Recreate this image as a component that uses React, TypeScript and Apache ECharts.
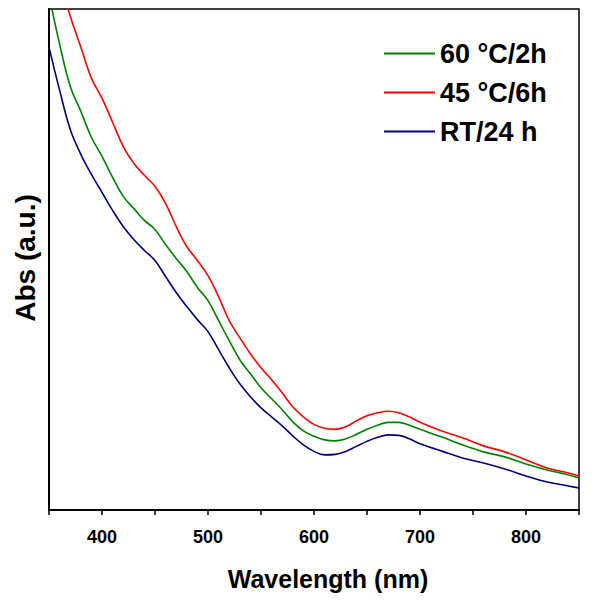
import React, { useEffect, useRef } from "react";
import * as echarts from "echarts";

const wavelengths = [
  350, 360, 370, 380, 390, 400, 410, 420, 430, 440, 450, 460, 470, 480, 490,
  500, 510, 520, 530, 540, 550, 560, 570, 580, 590, 600, 610, 620, 630, 640,
  650, 660, 670, 680, 690, 700, 720, 740, 760, 780, 800, 820, 840, 850,
];

const abs60C2h = [
  1.028, 0.93, 0.846, 0.796, 0.744, 0.706, 0.664, 0.626, 0.602, 0.578, 0.56,
  0.53, 0.502, 0.476, 0.444, 0.418, 0.378, 0.338, 0.3, 0.272, 0.244, 0.222,
  0.2, 0.176, 0.158, 0.147, 0.14, 0.138, 0.142, 0.151, 0.161, 0.169, 0.175,
  0.175, 0.169, 0.161, 0.146, 0.13, 0.116, 0.106, 0.092, 0.08, 0.07, 0.064,
];

const abs45C6h = [
  1.12, 1.056, 0.986, 0.924, 0.862, 0.822, 0.774, 0.726, 0.692, 0.668, 0.646,
  0.612, 0.566, 0.526, 0.498, 0.468, 0.426, 0.378, 0.344, 0.312, 0.284, 0.26,
  0.234, 0.206, 0.186, 0.171, 0.163, 0.161, 0.166, 0.178, 0.188, 0.194, 0.197,
  0.194, 0.186, 0.175, 0.158, 0.144, 0.128, 0.116, 0.1, 0.084, 0.074, 0.068,
];

const absRT24h = [
  0.924, 0.838, 0.76, 0.71, 0.67, 0.634, 0.598, 0.566, 0.54, 0.518, 0.498,
  0.466, 0.434, 0.406, 0.38, 0.356, 0.32, 0.284, 0.252, 0.226, 0.204, 0.186,
  0.168, 0.148, 0.13, 0.117, 0.11, 0.111, 0.117, 0.127, 0.137, 0.145, 0.15,
  0.149, 0.142, 0.132, 0.118, 0.104, 0.094, 0.082, 0.068, 0.056, 0.048, 0.044,
];

const seriesNames = ["60 °C/2h", "45 °C/6h", "RT/24 h"];
const seriesColors = ["#008000", "#ff0000", "#00007f"];

const FONT = "Liberation Sans, Arial, sans-serif";

export default function App() {
  const ref = useRef<HTMLDivElement>(null);

  useEffect(() => {
    if (!ref.current) return;
    document.body.style.margin = "0";
    const chart = echarts.init(ref.current, null, { renderer: "svg" });
    const seriesData = [abs60C2h, abs45C6h, absRT24h];
    chart.setOption({
      animation: false,
      backgroundColor: "#ffffff",
      grid: {
        left: 49,
        right: 21,
        top: 9,
        bottom: 90,
        show: true,
        borderColor: "#000",
        borderWidth: 1.5,
      },
      legend: {
        orient: "vertical",
        left: 379,
        top: 35,
        itemWidth: 51,
        itemHeight: 2,
        itemGap: 12,
        icon: "rect",
        data: seriesNames,
        textStyle: {
          fontFamily: FONT,
          fontWeight: "bold",
          fontSize: 27,
          color: "#000",
        },
      },
      xAxis: {
        type: "value",
        min: 350,
        max: 850,
        interval: 50,
        axisLine: { show: true, lineStyle: { color: "#000", width: 2 } },
        axisTick: {
          show: true,
          inside: false,
          length: 5,
          lineStyle: { color: "#000", width: 1.5 },
        },
        axisLabel: {
          margin: 18,
          fontFamily: FONT,
          fontWeight: "bold",
          fontSize: 18,
          color: "#000",
          formatter: (v: number) => (v % 100 === 0 ? String(v) : ""),
        },
        splitLine: { show: false },
      },
      yAxis: {
        type: "value",
        min: 0,
        max: 1,
        axisLine: { show: true, lineStyle: { color: "#000", width: 2 } },
        axisTick: { show: false },
        axisLabel: { show: false },
        splitLine: { show: false },
      },
      graphic: [
        {
          type: "text",
          x: 328,
          y: 579,
          style: {
            text: "Wavelength (nm)",
            fontFamily: FONT,
            fontWeight: "bold",
            fontSize: 25,
            fill: "#000",
            textAlign: "center",
            textVerticalAlign: "middle",
          },
        },
        {
          type: "text",
          x: 25,
          y: 258,
          rotation: Math.PI / 2,
          style: {
            text: "Abs (a.u.)",
            fontFamily: FONT,
            fontWeight: "bold",
            fontSize: 28,
            fill: "#000",
            textAlign: "center",
            textVerticalAlign: "middle",
          },
        },
      ],
      series: seriesNames.map((name, i) => ({
        name,
        type: "line",
        data: wavelengths.map((w, j) => [w, seriesData[i][j]]),
        smooth: 0.4,
        showSymbol: false,
        symbol: "none",
        clip: true,
        lineStyle: { color: seriesColors[i], width: 1.6 },
        itemStyle: { color: seriesColors[i] },
      })),
    });
    return () => chart.dispose();
  }, []);

  return <div ref={ref} style={{ width: 600, height: 600 }} />;
}
